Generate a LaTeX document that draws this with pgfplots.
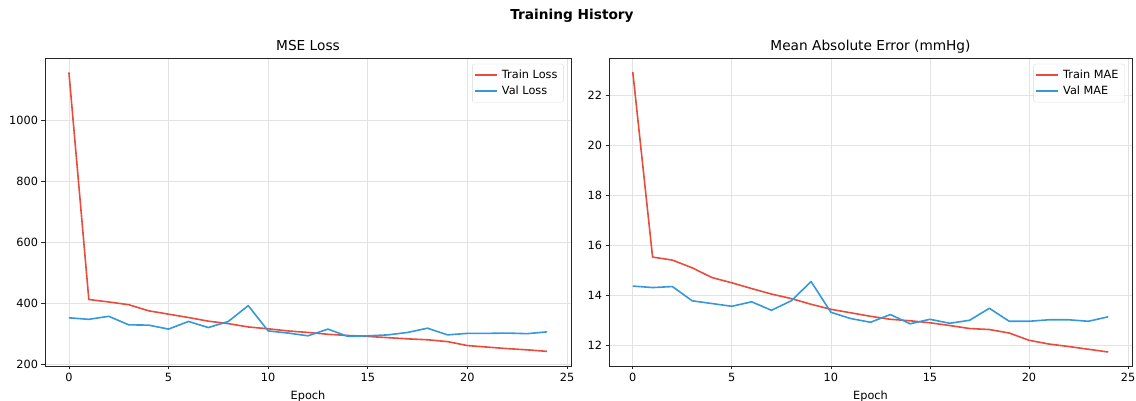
\documentclass[border=0pt]{standalone}
\usepackage{pgfplots}
\pgfplotsset{compat=1.18}
\usepackage{fontspec}
\setmainfont{DejaVu Sans}

\definecolor{trainred}{HTML}{E74C3C}
\definecolor{valblue}{HTML}{3498DB}

\pgfplotsset{
  histpanel/.style={
    scale only axis,
    height=308pt,
    xmin=-1.2, xmax=25.2,
    xtick={0,5,...,25},
    grid=major,
    major grid style={color=black!11, line width=0.7pt},
    axis line style={black!85, line width=0.9pt},
    tick style={black!85, line width=0.7pt},
    tick align=outside,
    tick pos=left,
    major tick length=3.5pt,
    ticklabel style={font=\fontsize{11.3}{13}\selectfont},
    /pgf/number format/assume math mode=true,
    /pgf/number format/1000 sep={},
    xlabel={Epoch},
    xlabel style={font=\fontsize{11.3}{13}\selectfont, yshift=-2pt},
    title style={font=\fontsize{13.7}{16}\selectfont, text height=10pt, text depth=3pt, yshift=-5pt},
    legend style={at={(0.986,0.981)}, anchor=north east,
      draw=black!15, rounded corners=2pt, fill=white, fill opacity=0.8,
      text opacity=1, font=\fontsize{11.3}{14}\selectfont,
      inner xsep=2pt, inner ysep=3pt,
      nodes={inner ysep=3pt, inner xsep=4pt}},
    legend cell align=left,
    legend image code/.code={\draw[#1, line width=1.6pt] (0pt,0pt) -- (22pt,0pt);},
    every axis plot/.append style={line width=1.6pt, line join=round},
  }
}

\begin{document}
\begin{tikzpicture}[x=1pt,y=1pt]
\path[use as bounding box] (0,0) rectangle (1136,401);
\node[font=\bfseries\fontsize{13.7}{16}\selectfont] at (572,385) {Training History};

% MSE loss per epoch
\begin{axis}[histpanel, at={(45pt,35pt)}, anchor=south west, width=526pt,
  ymin=194, ymax=1204, ytick={200,400,...,1000},
  title={MSE Loss}]
\addplot[trainred] coordinates {
 (0,1157) (1,412) (2,404) (3,395) (4,375) (5,364) (6,353) (7,341) (8,333)
 (9,322) (10,316) (11,309) (12,304) (13,298) (14,294) (15,291) (16,287)
 (17,283) (18,280) (19,274) (20,261) (21,256) (22,251) (23,247) (24,242)};
\addlegendentry{Train Loss}
\addplot[valblue] coordinates {
 (0,352) (1,347) (2,357) (3,329) (4,328) (5,315) (6,340) (7,320) (8,340)
 (9,392) (10,309) (11,302) (12,293) (13,315) (14,291) (15,293) (16,296)
 (17,304) (18,318) (19,296) (20,301) (21,301) (22,302) (23,300) (24,306)};
\addlegendentry{Val Loss}
\end{axis}

% Mean absolute error per epoch
\begin{axis}[histpanel, at={(609pt,35pt)}, anchor=south west, width=523pt,
  ymin=11.17, ymax=23.50, ytick={12,14,...,22},
  title={Mean Absolute Error (mmHg)}]
\addplot[trainred] coordinates {
 (0,22.94) (1,15.53) (2,15.41) (3,15.10) (4,14.71) (5,14.50) (6,14.27)
 (7,14.05) (8,13.87) (9,13.64) (10,13.44) (11,13.30) (12,13.16) (13,13.04)
 (14,12.98) (15,12.90) (16,12.79) (17,12.67) (18,12.63) (19,12.49)
 (20,12.20) (21,12.05) (22,11.95) (23,11.84) (24,11.73)};
\addlegendentry{Train MAE}
\addplot[valblue] coordinates {
 (0,14.37) (1,14.31) (2,14.35) (3,13.78) (4,13.67) (5,13.56) (6,13.74)
 (7,13.40) (8,13.78) (9,14.55) (10,13.32) (11,13.07) (12,12.92) (13,13.23)
 (14,12.86) (15,13.04) (16,12.88) (17,13.00) (18,13.48) (19,12.96)
 (20,12.96) (21,13.02) (22,13.02) (23,12.96) (24,13.14)};
\addlegendentry{Val MAE}
\end{axis}
\end{tikzpicture}
\end{document}
